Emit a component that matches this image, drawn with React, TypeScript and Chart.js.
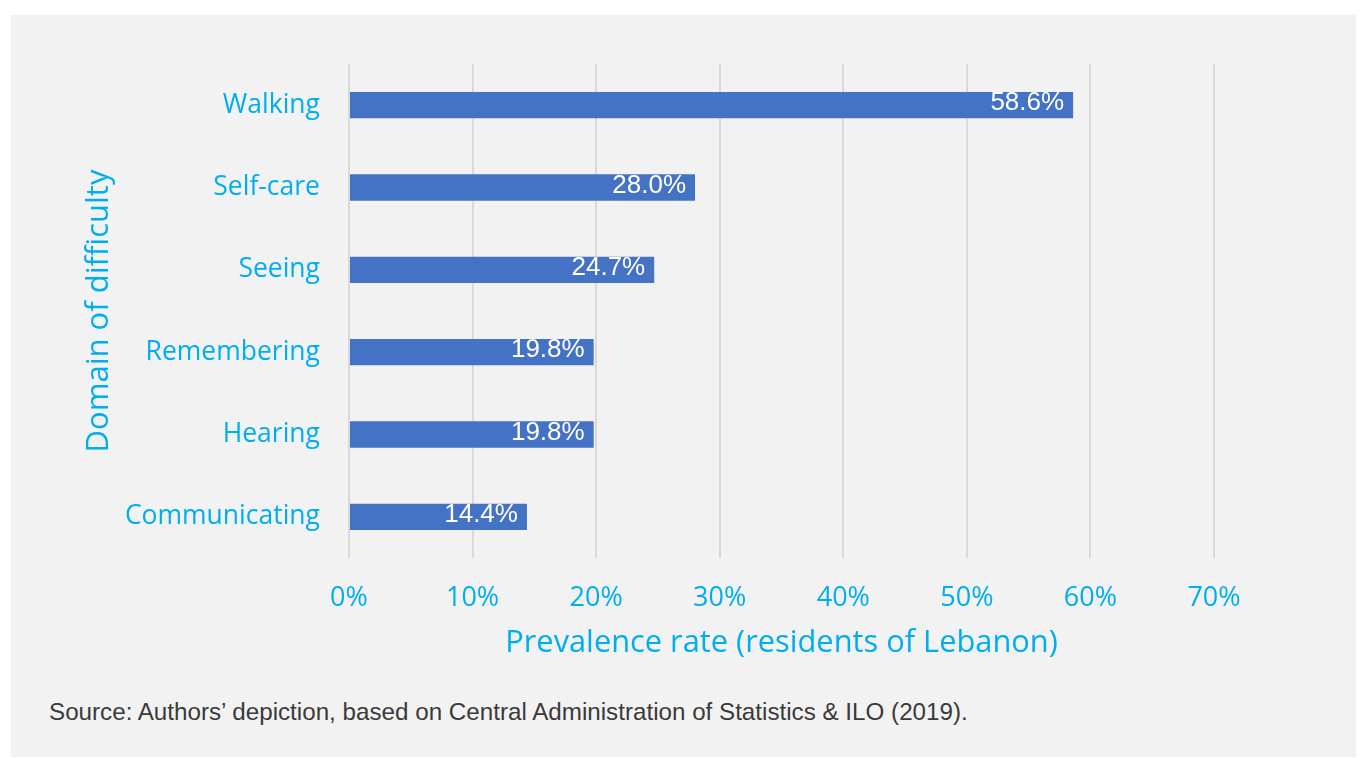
import React, { useEffect, useRef } from "react";
import { Chart, registerables } from "chart.js";

Chart.register(...registerables);

const categories = ["Walking", "Self-care", "Seeing", "Remembering", "Hearing", "Communicating"];
const values = [58.6, 28.0, 24.7, 19.8, 19.8, 14.4];
const valueLabels = ["58.6%", "28.0%", "24.7%", "19.8%", "19.8%", "14.4%"];
const xTicks = [0, 10, 20, 30, 40, 50, 60, 70];
const xTitle = "Prevalence rate (residents of Lebanon)";
const yTitle = "Domain of difficulty";
const sourceText = "Source: Authors’ depiction, based on Central Administration of Statistics & ILO (2019).";

const CYAN = "#00AEEF";
const BAR = "#4472C4";
const GRID = "#D9D9D9";
const UI_FONT = "'Open Sans', 'Noto Sans', sans-serif";

const valueLabelPlugin = {
  id: "valueLabels",
  afterDatasetsDraw(chart: any) {
    const ctx = chart.ctx;
    const meta = chart.getDatasetMeta(0);
    ctx.save();
    ctx.font = "26px 'Liberation Sans', Arial, sans-serif";
    ctx.fillStyle = "#FFFFFF";
    ctx.textAlign = "right";
    ctx.textBaseline = "middle";
    meta.data.forEach((el: any, i: number) => {
      ctx.fillText(valueLabels[i], el.x - 9, el.y - 2);
    });
    ctx.restore();
  },
};

export default function App() {
  const ref = useRef<HTMLCanvasElement | null>(null);

  useEffect(() => {
    if (!ref.current) return;
    const chart = new Chart(ref.current, {
      type: "bar",
      data: {
        labels: categories,
        datasets: [
          {
            data: values,
            backgroundColor: BAR,
            borderWidth: 0,
            barPercentage: 1,
            categoryPercentage: 0.32,
          },
        ],
      },
      options: {
        indexAxis: "y",
        animation: false,
        responsive: false,
        maintainAspectRatio: false,
        layout: { padding: { left: 0, right: 142, top: 49, bottom: 0 } },
        plugins: {
          legend: { display: false },
          tooltip: { enabled: false },
        },
        scales: {
          x: {
            min: 0,
            max: 70,
            afterBuildTicks: (scale: any) => {
              scale.ticks = xTicks.map((v) => ({ value: v }));
            },
            afterFit: (scale: any) => {
              scale.height = 127;
            },
            grid: { color: GRID, lineWidth: 2, drawTicks: false },
            border: { display: false },
            ticks: {
              color: CYAN,
              font: { family: UI_FONT, size: 27 },
              padding: 24,
              callback: (v: any) => v + "%",
            },
            title: {
              display: true,
              text: xTitle,
              color: CYAN,
              font: { family: UI_FONT, size: 30.8 },
              padding: { top: 0, bottom: 23 },
            },
          },
          y: {
            afterFit: (scale: any) => {
              scale.width = 338;
            },
            grid: { display: false, drawTicks: false },
            border: { display: false },
            ticks: {
              color: CYAN,
              font: { family: UI_FONT, size: 26.5 },
              padding: 29,
            },
            title: {
              display: true,
              text: yTitle,
              color: CYAN,
              font: { family: UI_FONT, size: 31 },
              padding: { top: 70, bottom: 0 },
            },
          },
        },
      },
      plugins: [valueLabelPlugin],
    });
    return () => chart.destroy();
  }, []);

  return (
    <div
      style={{
        position: "absolute",
        left: 11,
        top: 15,
        width: 1345,
        height: 742,
        background: "#F2F2F2",
      }}
    >
      <canvas ref={ref} width={1345} height={670} style={{ display: "block" }} />
      <div
        style={{
          position: "absolute",
          left: 38,
          top: 683,
          fontFamily: "'Liberation Sans', Arial, sans-serif",
          fontSize: 24.2,
          color: "#3A3A3A",
          whiteSpace: "nowrap",
          lineHeight: "28px",
        }}
      >
        {sourceText}
      </div>
    </div>
  );
}
